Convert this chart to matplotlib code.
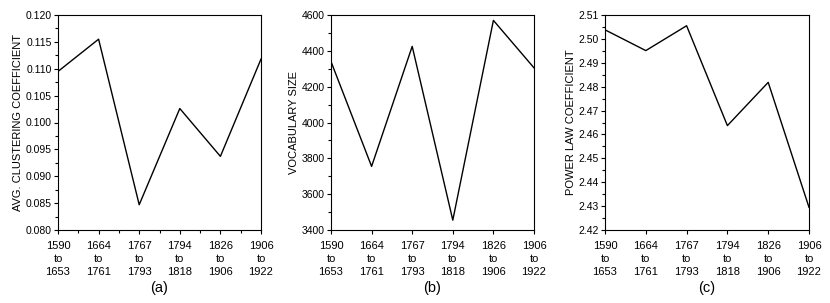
import matplotlib
matplotlib.use("Agg")
import matplotlib.pyplot as plt
from matplotlib.ticker import MultipleLocator, AutoMinorLocator, FormatStrFormatter

plt.rcParams['font.family'] = ['Liberation Sans', 'DejaVu Sans']

periods = ["1590\nto\n1653", "1664\nto\n1761", "1767\nto\n1793",
           "1794\nto\n1818", "1826\nto\n1906", "1906\nto\n1922"]

clustering = [0.1095, 0.1155, 0.0847, 0.1026, 0.0937, 0.1118]
vocab = [4340, 3755, 4425, 3455, 4570, 4305]
power_law = [2.5038, 2.4951, 2.5055, 2.4637, 2.4818, 2.4295]

fig = plt.figure(figsize=(8.3, 3.03), dpi=100)

# axes boxes in pixels (left, right, top, bottom)
boxes = [(58, 261, 15, 230), (331, 534, 15, 230), (605, 809, 15, 230)]
W, H = 830.0, 303.0

panels = [
    (clustering, 'AVG. CLUSTERING COEFFICIENT', (0.080, 0.120), 0.005, '%.3f', '(a)', True),
    (vocab, 'VOCABULARY SIZE', (3400, 4600), 200, '%d', '(b)', False),
    (power_law, 'POWER LAW COEFFICIENT', (2.42, 2.51), 0.01, '%.2f', '(c)', False),
]

for (l, r, t, b), (vals, ylab, ylim, step, fmt, tag, xminor) in zip(boxes, panels):
    ax = fig.add_axes([l / W, 1 - b / H, (r - l) / W, (b - t) / H])
    x = list(range(len(vals)))
    ax.plot(x, vals, color='black', lw=1.0)
    ax.set_xlim(0, len(vals) - 1)
    ax.set_ylim(*ylim)
    ax.yaxis.set_major_locator(MultipleLocator(step))
    ax.yaxis.set_minor_locator(AutoMinorLocator(2))
    ax.yaxis.set_major_formatter(FormatStrFormatter(fmt))
    ax.set_xticks(x)
    ax.set_xticklabels(periods, linespacing=1.35)
    if xminor:
        ax.xaxis.set_minor_locator(AutoMinorLocator(2))
    ax.tick_params(axis='both', which='major', direction='out', length=3,
                   width=0.8, labelsize=7.5, pad=1.5)
    ax.tick_params(axis='both', which='minor', direction='out', length=2, width=0.8)
    ax.tick_params(axis='x', labelsize=8, pad=5)
    for s in ax.spines.values():
        s.set_linewidth(0.8)
    ax.set_ylabel(ylab, fontsize=8, labelpad=2)
    ax.text(0.5, -0.235, tag, transform=ax.transAxes, ha='center', va='top', fontsize=10.5)

fig.savefig('out.png', dpi=100)
